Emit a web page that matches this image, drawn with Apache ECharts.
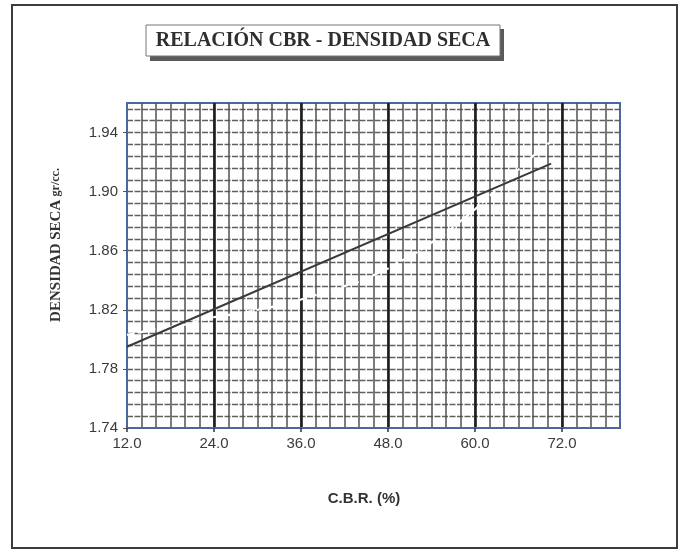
<!DOCTYPE html>
<html><head><meta charset="utf-8">
<script src="https://cdn.jsdelivr.net/npm/echarts@6/dist/echarts.min.js"></script>
<style>html,body{margin:0;padding:0;background:#fff}#c{width:683px;height:551px}</style>
</head><body><div id="c"></div>
<script>
const titleText = 'RELACIÓN CBR - DENSIDAD SECA';
const xName = 'C.B.R. (%)';
const yName = 'DENSIDAD SECA';
const yUnit = 'gr/cc.';
const xMin = 12, xMax = 80, xMajor = 12, xMinor = 2;
const yMin = 1.74, yMax = 1.96, yMajor = 0.04, yMinor = 0.008;
const trendCBR = [12, 70.5];
const trendDens = [1.795, 1.919];
const curveCBR = [12, 16, 20, 24, 28, 32, 36, 40, 44, 48, 52, 56, 60, 62, 64, 66, 68, 70.5];
const curveDens = [1.803, 1.807, 1.810, 1.815, 1.818, 1.822, 1.827, 1.833, 1.839, 1.848, 1.859, 1.872, 1.888, 1.897, 1.906, 1.915, 1.924, 1.934];

const blue = '#4b67a0';
const chart = echarts.init(document.getElementById('c'));
const labelFont = {fontFamily: 'Liberation Sans, Arial', fontSize: 15, color: '#3a3a3a'};
chart.setOption({
  animation: false,
  backgroundColor: '#fff',
  grid: {left: 127, top: 103, width: 493, height: 325, show: true, borderColor: blue, borderWidth: 2, backgroundColor: 'transparent'},
  xAxis: [
    {type: 'value', min: xMin, max: xMax, interval: xMajor, position: 'bottom',
      axisLine: {show: true, lineStyle: {color: blue, width: 2}},
      axisTick: {show: true, length: 4, lineStyle: {color: '#333', width: 1.5}},
      axisLabel: Object.assign({margin: 8, showMaxLabel: false, formatter: v => v.toFixed(1)}, labelFont),
      splitLine: {show: true, showMinLine: false, showMaxLine: false, lineStyle: {color: '#1e1e1e', width: 2.6}},
      z: 1},
    {type: 'value', min: xMin, max: xMax, interval: xMinor, position: 'bottom',
      axisLine: {show: false}, axisTick: {show: false}, axisLabel: {show: false},
      splitLine: {show: true, showMinLine: false, showMaxLine: false, lineStyle: {color: '#505050', width: 1.5}},
      z: 0}
  ],
  yAxis: [
    {type: 'value', min: yMin, max: yMax, interval: yMajor, position: 'left',
      axisLine: {show: true, lineStyle: {color: blue, width: 2}},
      axisTick: {show: true, length: 4, lineStyle: {color: '#555', width: 1}},
      axisLabel: Object.assign({margin: 9, showMaxLabel: false, formatter: v => v.toFixed(2)}, labelFont),
      splitLine: {show: false},
      z: 1},
    {type: 'value', min: yMin, max: yMax, interval: yMinor, position: 'left',
      axisLine: {show: false}, axisTick: {show: false}, axisLabel: {show: false},
      splitLine: {show: true, showMinLine: false, showMaxLine: false, lineStyle: {color: '#606060', width: 1.3, type: [6, 1.5]}},
      z: 0}
  ],
  series: [
    {type: 'line', xAxisIndex: 0, yAxisIndex: 0, showSymbol: false, symbol: 'none', z: 3,
      lineStyle: {color: '#ffffff', width: 2.2, type: [7, 4]},
      data: curveCBR.map((x, i) => [x, curveDens[i]])},
    {type: 'line', xAxisIndex: 0, yAxisIndex: 0, showSymbol: false, symbol: 'none', z: 4,
      lineStyle: {color: '#3a3a3a', width: 2},
      data: trendCBR.map((x, i) => [x, trendDens[i]])}
  ],
  graphic: [
    {type: 'rect', shape: {x: 12, y: 5, width: 665, height: 543}, style: {fill: 'none', stroke: '#3c3c3c', lineWidth: 2}, z: 10},
    {type: 'rect', shape: {x: 150, y: 29, width: 354, height: 32}, style: {fill: '#5a5a5a'}, z: 10},
    {type: 'rect', shape: {x: 146, y: 25, width: 354, height: 31}, style: {fill: '#fff', stroke: '#777', lineWidth: 1}, z: 11},
    {type: 'text', x: 323, y: 41, z: 12, style: {text: titleText, align: 'center', verticalAlign: 'middle',
      font: 'bold 20px "Liberation Serif", "Times New Roman", serif', fill: '#2e2e2e'}},
    {type: 'text', x: 56, y: 245, rotation: Math.PI / 2, z: 12, style: {
      text: '{a|' + yName + '} {b|' + yUnit + '}', align: 'center', verticalAlign: 'middle',
      rich: {a: {font: 'bold 15px "Liberation Serif", serif', fill: '#333'}, b: {font: 'bold 12px "Liberation Serif", serif', fill: '#333'}}}},
    {type: 'text', x: 364, y: 499, z: 12, style: {text: xName, align: 'center', verticalAlign: 'middle',
      font: 'bold 15px "Liberation Sans", Arial, sans-serif', fill: '#333'}}
  ]
});
</script></body></html>
